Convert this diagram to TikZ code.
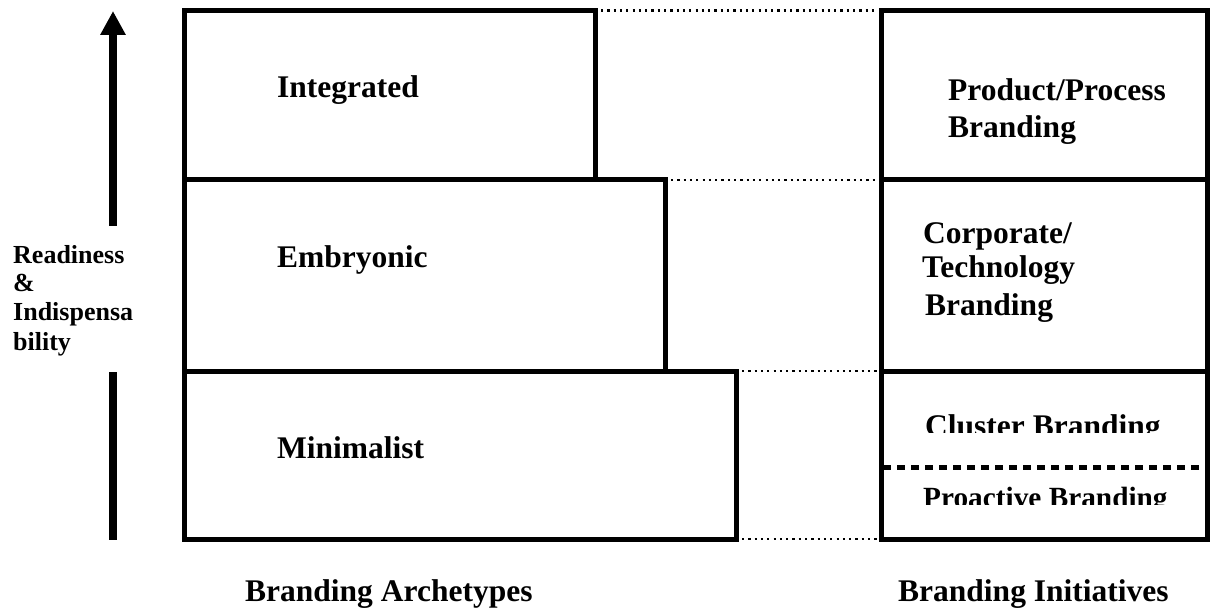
\documentclass[tikz,border=0pt]{standalone}
\usepackage{fontspec}
\setmainfont{Liberation Serif}
\usetikzlibrary{arrows.meta}
\tikzset{
  box/.style={draw, line width=5pt, minimum width=#1, inner sep=0pt, outer sep=0pt, anchor=north west},
  lbl/.style={font=\fontsize{31.5}{36}\selectfont\bfseries, anchor=base west, inner sep=0pt},
  small/.style={font=\fontsize{26}{30}\selectfont\bfseries, anchor=base west, inner sep=0pt},
  conn/.style={line width=2.2pt, dash pattern=on 2.2pt off 4.1pt},
  sep/.style={line width=5pt, dash pattern=on 8pt off 6pt},
}
\begin{document}
\begin{tikzpicture}[x=1pt,y=-1pt]
\useasboundingbox (0,0) rectangle (1217,609);
% left boxes
\node[box=410.5pt, minimum height=169.5pt] (int) at (184.5,10.5) {};
\node[box=480.5pt, minimum height=191pt] (emb) at (184.5,180) {};
\node[box=551.5pt, minimum height=168pt] (min) at (184.5,371) {};
% right boxes
\node[box=326pt, minimum height=169.5pt] (pp) at (881,10.5) {};
\node[box=326pt, minimum height=191pt] (ct) at (881,180) {};
\node[box=326pt, minimum height=168pt] (cl) at (881,371) {};
% dotted connectors
\draw[conn] ([xshift=6pt]int.north east) -- ([xshift=-3pt]pp.north west);
\draw[conn] ([xshift=6pt]emb.north east) -- ([xshift=-3pt]ct.north west);
\draw[conn] ([xshift=6pt]min.north east) -- ([xshift=-3pt]cl.north west);
\draw[conn] ([xshift=6pt]min.south east) -- ([xshift=-3pt]cl.south west);
% separator in bottom right box
\coordinate (sa) at (883,467.5);
\coordinate (sb) at (1205,467.5);
\draw[sep] (sa) -- (sb);
% arrow
\coordinate (a0) at (113,226);
\coordinate (a1) at (113,11);
\coordinate (b0) at (113,372);
\coordinate (b1) at (113,540);
\draw[line width=8pt, -{Triangle[width=24pt,length=24pt]}] (a0) -- (a1);
\draw[line width=8pt] (b0) -- (b1);
% texts
\node[lbl] (t1) at (277,98) {Integrated};
\node[lbl] (t2) at (277,268) {Embryonic};
\node[lbl] (t3) at (277,458) {Minimalist};
\node[lbl] (t4) at (948,101) {Product/Process};
\node[lbl] (t5) at (948,138) {Branding};
\node[lbl] (t6) at (923,244) {Corporate/};
\node[lbl] (t7) at (922,278) {Technology};
\node[lbl] (t8) at (925,316) {Branding};
\begin{scope}
\clip (884,380) rectangle (1200,432);
\node[lbl] (t9) at (925,436) {Cluster Branding};
\end{scope}
\begin{scope}
\clip (884,472) rectangle (1200,504);
\node[lbl, font=\fontsize{29.3}{34}\selectfont\bfseries] (t10) at (923,507) {Proactive Branding};
\end{scope}
\node[small] (r1) at (13,264) {Readiness};
\node[small] (r2) at (13,292) {\&};
\node[small] (r3) at (13,320) {Indispensa};
\node[small] (r4) at (13,350) {bility};
\node[lbl] (c1) at (245,601) {Branding Archetypes};
\node[lbl] (c2) at (898,601) {Branding Initiatives};
\end{tikzpicture}
\end{document}
